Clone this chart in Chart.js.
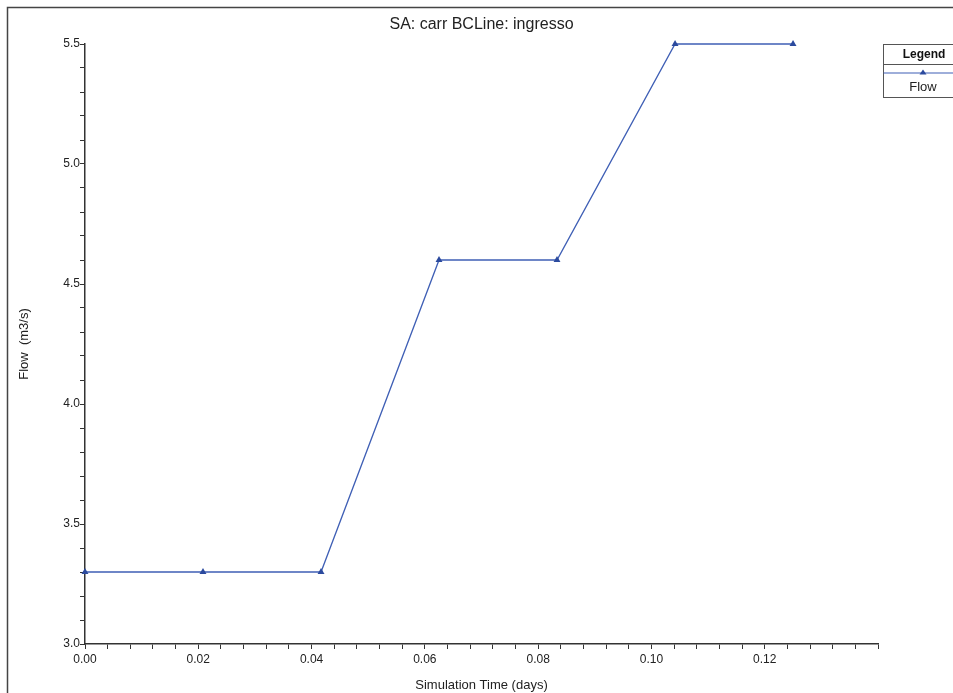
<!DOCTYPE html>
<html>
<head>
<meta charset="utf-8">
<script src="https://cdn.jsdelivr.net/npm/chart.js@4/dist/chart.umd.min.js"></script>
<style>
  body { margin: 0; background: #fff; }
  canvas { display: block; }
</style>
</head>
<body>
<canvas id="chart-flow" width="953" height="693"></canvas>
<script>
// simulation time (days) and flow (m3/s)
const times = [0.0, 0.02083, 0.04167, 0.0625, 0.08333, 0.10417, 0.125];
const flows = [3.3, 3.3, 3.3, 4.6, 4.6, 5.5, 5.5];

const xTickLabels = ['0.00', '0.02', '0.04', '0.06', '0.08', '0.10', '0.12'];
const yTickLabels = ['3.0', '3.5', '4.0', '4.5', '5.0', '5.5'];
const xMinorStep = 0.004, yMinorStep = 0.1;

const lineColor = '#3f5fb5';
const markColor = '#2b4a9e';
const inkColor = '#333';
const fontFamily = '"Liberation Sans", Arial, sans-serif';

const points = [];
for (let i = 0; i < times.length; ++i) {
    points.push({x: times[i], y: flows[i]});
}

function stepTicks(min, max, step) {
    const out = [];
    const n = Math.round((max - min) / step);
    for (let i = 0; i <= n; ++i) out.push({value: +(min + i * step).toFixed(4)});
    return out;
}

// only label a tick when it sits exactly on one of the listed values
function labelFor(list, v) {
    for (let i = 0; i < list.length; ++i) {
        if (Math.abs(parseFloat(list[i]) - v) < 1e-6) return list[i];
    }
    return '';
}

// frame round the picture and the boxed legend
const decor = {
    id: 'decor',
    afterDraw(chart) {
        const ctx = chart.ctx;
        ctx.save();
        ctx.strokeStyle = '#444';
        ctx.lineWidth = 1.5;
        ctx.strokeRect(7.5, 7.5, 1000, 1000);

        // legend box
        const lx = 883.5, ly = 44.5, lw = 80, lh = 53;
        ctx.lineWidth = 1;
        ctx.strokeStyle = '#555';
        ctx.strokeRect(lx, ly, lw, lh);
        ctx.beginPath();
        ctx.moveTo(lx, 64.5);
        ctx.lineTo(lx + lw, 64.5);
        ctx.stroke();

        ctx.fillStyle = '#111';
        ctx.textAlign = 'center';
        ctx.textBaseline = 'middle';
        ctx.font = 'bold 12px ' + fontFamily;
        ctx.fillText('Legend', 924, 54.5);
        ctx.font = '13px ' + fontFamily;
        ctx.fillStyle = '#222';
        ctx.fillText('Flow', 923, 87);

        ctx.strokeStyle = lineColor;
        ctx.lineWidth = 1.2;
        ctx.beginPath();
        ctx.moveTo(lx, 73);
        ctx.lineTo(953, 73);
        ctx.stroke();
        ctx.fillStyle = markColor;
        ctx.beginPath();
        ctx.moveTo(923, 69.5);
        ctx.lineTo(926.5, 74.5);
        ctx.lineTo(919.5, 74.5);
        ctx.closePath();
        ctx.fill();
        ctx.restore();
    }
};

new Chart(document.getElementById('chart-flow').getContext('2d'), {
    type: 'line',
    data: {
        datasets: [{
            label: 'Flow',
            data: points,
            borderColor: lineColor,
            backgroundColor: markColor,
            borderWidth: 1.3,
            tension: 0,
            pointStyle: 'triangle',
            pointRadius: 4,
            pointBorderWidth: 0,
            pointBackgroundColor: markColor,
            clip: false
        }]
    },
    options: {
        responsive: false,
        animation: false,
        devicePixelRatio: 1,
        layout: { padding: {left: 0, top: 0, right: 75, bottom: 0} },
        plugins: {
            legend: { display: false },
            tooltip: { enabled: false },
            title: {
                display: true,
                text: 'SA: carr BCLine: ingresso',
                fullSize: false,
                color: '#222',
                font: { family: fontFamily, size: 16, weight: 'normal' },
                padding: { top: 15, bottom: 9.8 }
            }
        },
        scales: {
            x: {
                type: 'linear',
                min: 0,
                max: 0.14,
                afterFit(scale) { scale.height = 49; },
                afterBuildTicks(scale) { scale.ticks = stepTicks(0, 0.14, xMinorStep); },
                grid: {
                    drawOnChartArea: false,
                    drawTicks: true,
                    tickLength: 5,
                    tickColor: inkColor
                },
                border: { display: true, color: inkColor, width: 1.5 },
                ticks: {
                    autoSkip: false,
                    maxRotation: 0,
                    padding: 3,
                    color: '#222',
                    font: { family: fontFamily, size: 12 },
                    callback: (v) => labelFor(xTickLabels, v)
                },
                title: {
                    display: true,
                    text: 'Simulation Time (days)',
                    color: '#222',
                    font: { family: fontFamily, size: 13 },
                    padding: { top: 0, bottom: 0 }
                }
            },
            y: {
                type: 'linear',
                min: 3.0,
                max: 5.5,
                afterFit(scale) { scale.width = 85; },
                afterBuildTicks(scale) { scale.ticks = stepTicks(3.0, 5.5, yMinorStep); },
                grid: {
                    drawOnChartArea: false,
                    drawTicks: true,
                    tickLength: 5,
                    tickColor: inkColor
                },
                border: { display: true, color: inkColor, width: 1.5 },
                ticks: {
                    autoSkip: false,
                    padding: 0,
                    color: '#222',
                    font: { family: fontFamily, size: 12 },
                    callback: (v) => labelFor(yTickLabels, v)
                },
                title: {
                    display: true,
                    text: 'Flow  (m3/s)',
                    color: '#222',
                    font: { family: fontFamily, size: 13 },
                    padding: { top: 17, bottom: 0 }
                }
            }
        }
    },
    plugins: [decor]
});
</script>
</body>
</html>
